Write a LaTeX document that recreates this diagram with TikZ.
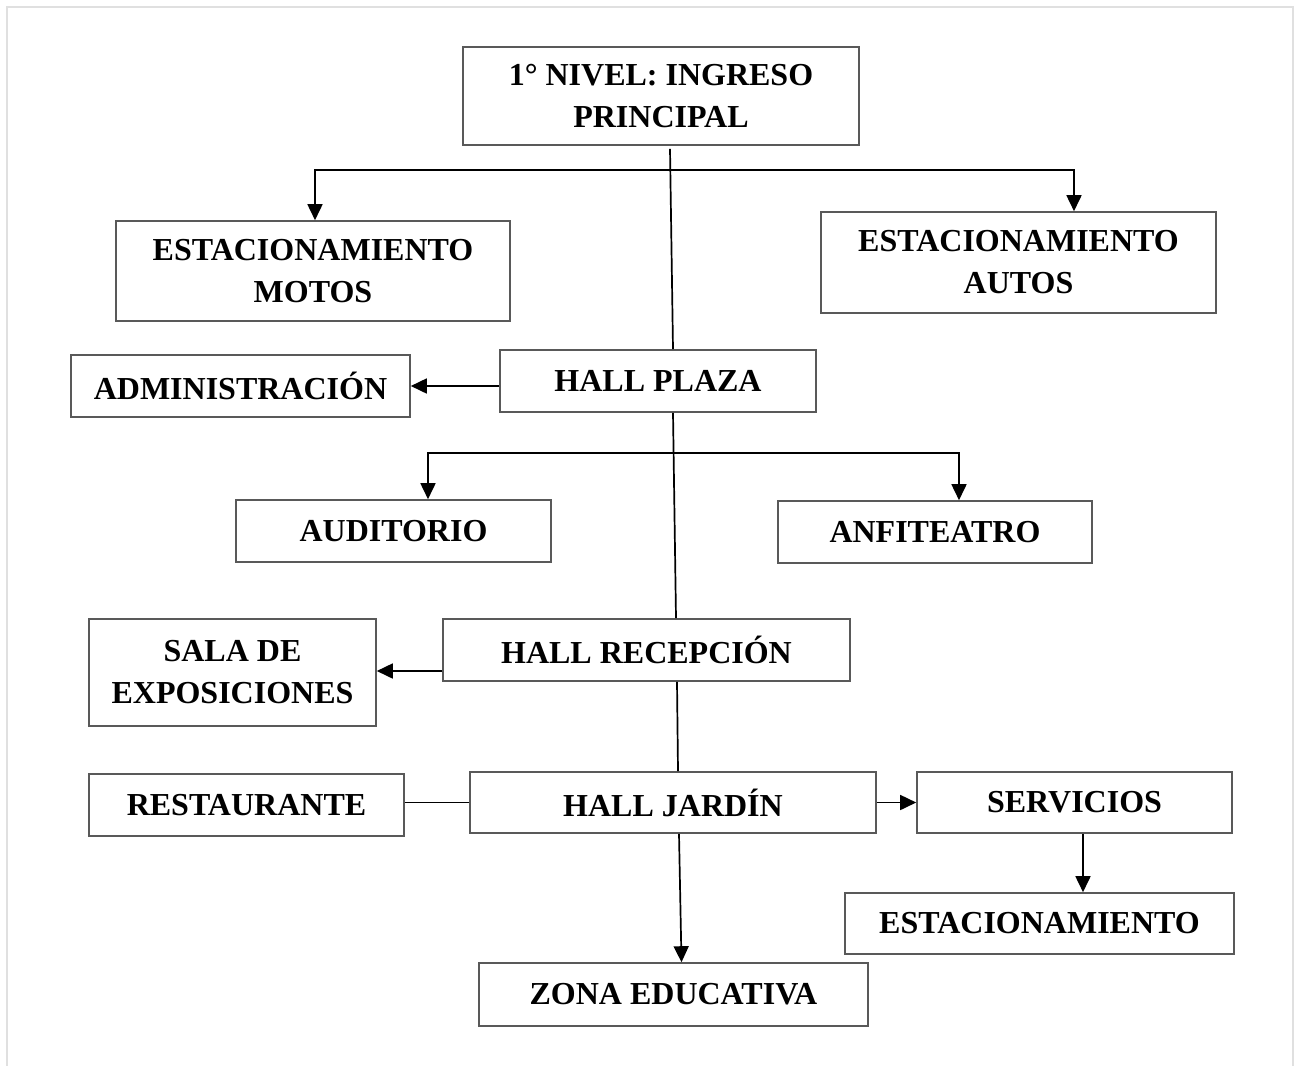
\documentclass[tikz,border=0pt]{standalone}
\usepackage{fontspec}
\setmainfont{Liberation Serif}
\usetikzlibrary{arrows.meta}
\begin{document}
\begin{tikzpicture}[x=1pt,y=-1pt,
  box/.style={draw=black!65,line width=1.6pt,fill=white,inner sep=0pt,align=center,
    font=\bfseries\fontsize{32}{42}\selectfont},
  conn/.style={draw=black,line width=1.7pt},
  arr/.style={conn,-{Triangle[length=16pt,width=15pt]}},
  frame/.style={draw=black!12,line width=2pt}]
\useasboundingbox (0,0) rectangle (1298,1066);
\draw[frame] (7,1066) -- (7,7) -- (1293,7) -- (1293,1066);

\node[box,minimum width=396pt,minimum height=98pt] (top) at (661,96) {1° NIVEL: INGRESO\\PRINCIPAL};
\node[box,minimum width=394pt,minimum height=100pt] (motos) at (313,271) {ESTACIONAMIENTO\\MOTOS};
\node[box,minimum width=395pt,minimum height=101pt] (autos) at (1018.5,262.5) {ESTACIONAMIENTO\\AUTOS};
\node[box,minimum width=316pt,minimum height=62pt] (hplaza) at (658,381) {HALL PLAZA};
\node[box,minimum width=339pt,minimum height=62pt] (admin) at (240.5,386) {ADMINISTRACIÓN};
\node[box,minimum width=315pt,minimum height=62pt] (aud) at (393.5,531) {AUDITORIO};
\node[box,minimum width=314pt,minimum height=62pt] (anfi) at (935,532) {ANFITEATRO};
\node[box,minimum width=407pt,minimum height=62pt] (hrec) at (646.5,650) {HALL RECEPCIÓN};
\node[box,minimum width=287pt,minimum height=107pt] (sala) at (232.5,672.5) {SALA DE\\EXPOSICIONES};
\node[box,minimum width=406pt,minimum height=61pt] (hjar) at (673,802.5) {HALL JARDÍN};
\node[box,minimum width=315pt,minimum height=62pt] (rest) at (246.5,805) {RESTAURANTE};
\node[box,minimum width=315pt,minimum height=61pt] (serv) at (1074.5,802.5) {SERVICIOS};
\node[box,minimum width=389pt,minimum height=61pt] (est) at (1039.5,923.5) {ESTACIONAMIENTO};
\node[box,minimum width=389pt,minimum height=63pt] (zona) at (673.5,994.5) {ZONA EDUCATIVA};

% trunk
\draw[conn] ([xshift=9pt,yshift=-3pt]top.south) -- ([xshift=15pt]hplaza.north);
\draw[conn] ([xshift=15pt]hplaza.south) -- ([xshift=29.5pt]hrec.north);
\draw[conn] ([xshift=30.5pt]hrec.south) -- ([xshift=5pt]hjar.north);
\draw[arr] ([xshift=6pt]hjar.south) -- ([xshift=8pt]zona.north);

% first branch
\coordinate (j1) at (670,170);
\draw[arr] (j1) -| ([xshift=2pt]motos.north);
\draw[arr] (j1) -| ([xshift=55.5pt]autos.north);

% second branch
\coordinate (j2) at (673,453);
\draw[arr] (j2) -| ([xshift=34.5pt]aud.north);
\draw[arr] (j2) -| ([xshift=24pt]anfi.north);

% side connectors
\draw[arr] ([yshift=-5pt]hplaza.west) coordinate (a1) -- (a1 -| admin.east);
\draw[arr] ([yshift=-21pt]hrec.west) coordinate (s1) -- (s1 -| sala.east);
\draw[conn] (hjar.west) -- (hjar.west -| rest.east);
\draw[arr] (hjar.east) -- (hjar.east -| serv.west);
\draw[arr] ([xshift=8.5pt]serv.south) coordinate (e1) -- (e1 |- est.north);
\end{tikzpicture}
\end{document}
